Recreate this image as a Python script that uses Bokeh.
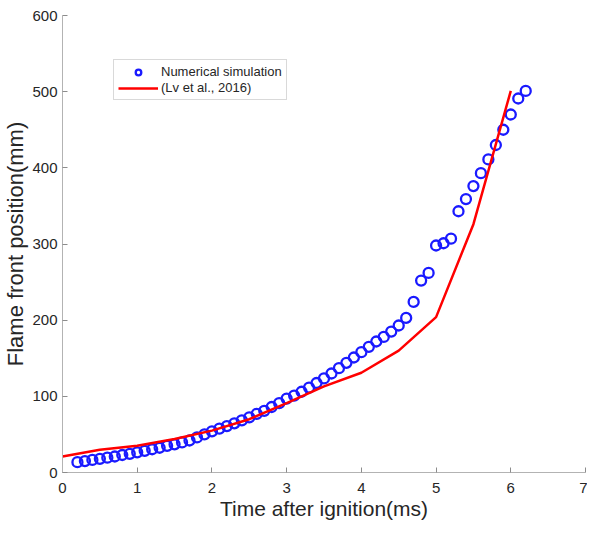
from bokeh.plotting import figure
from bokeh.models import Legend, LegendItem, FixedTicker
from bokeh.embed import file_html
from bokeh.resources import INLINE

# ---- data ----
sim_time = [0.2, 0.3, 0.4, 0.5, 0.6, 0.7, 0.8, 0.9, 1.0, 1.1,
            1.2, 1.3, 1.4, 1.5, 1.6, 1.7, 1.8, 1.9, 2.0, 2.1,
            2.2, 2.3, 2.4, 2.5, 2.6, 2.7, 2.8, 2.9, 3.0, 3.1,
            3.2, 3.3, 3.4, 3.5, 3.6, 3.7, 3.8, 3.9, 4.0, 4.1,
            4.2, 4.3, 4.4, 4.5, 4.6, 4.7, 4.8, 4.9, 5.0, 5.1,
            5.2, 5.3, 5.4, 5.5, 5.6, 5.7, 5.8, 5.9, 6.0, 6.1, 6.2]
sim_pos = [13.5, 15, 16.5, 18, 19.5, 21, 23, 24.5, 26.5, 28.5,
           30.5, 32.5, 35, 37, 39.5, 42, 46, 50, 54, 57.5,
           61, 64.5, 68.5, 72.5, 77, 81, 86, 91, 97, 101,
           106, 111.5, 117.5, 123.5, 130, 137, 144, 151, 158, 165,
           172, 178, 185, 193, 203, 224, 252, 262, 298, 301,
           307, 343, 359, 376, 393, 411, 430, 450, 470, 491, 501]

exp_time = [0.0, 0.5, 1.0, 1.5, 2.0, 2.5, 3.0, 3.5, 4.0, 4.5, 5.0, 5.5, 6.0]
exp_pos = [21, 30, 35, 44, 55, 70, 91, 113, 131, 160, 204, 326, 501]

x_ticks = [0, 1, 2, 3, 4, 5, 6, 7]
y_ticks = [0, 100, 200, 300, 400, 500, 600]

FONT = "Liberation Sans"

p = figure(width=587, height=525, x_range=(0, 7), y_range=(0, 600),
           output_backend="svg", toolbar_location=None,
           min_border_left=62, min_border_right=2, min_border_top=15,
           min_border_bottom=53)
p.outline_line_color = None
p.grid.grid_line_color = None
p.background_fill_color = "white"

r_sim = p.scatter(sim_time, sim_pos, marker="circle", size=10,
                  fill_color=None, line_color="#1a1aff", line_width=2.3)
r_exp = p.line(exp_time, exp_pos, line_color="#ff0000", line_width=2.5)

for ax in (p.xaxis[0], p.yaxis[0]):
    ax.axis_line_color = "#b3b3b3"
    ax.axis_line_width = 1
    ax.major_tick_line_color = "#8c8c8c"
    ax.major_tick_in = 5
    ax.major_tick_out = 0
    ax.minor_tick_line_color = None
    ax.major_label_text_color = "#262626"
    ax.major_label_text_font = FONT
    ax.major_label_text_font_size = "15px"
    ax.axis_label_text_color = "#262626"
    ax.axis_label_text_font = FONT
    ax.axis_label_text_font_style = "normal"

p.xaxis.ticker = FixedTicker(ticks=x_ticks)
p.yaxis.ticker = FixedTicker(ticks=y_ticks)
p.xaxis.axis_label = "Time after ignition(ms)"
p.xaxis.axis_label_text_font_size = "21px"
p.xaxis.major_label_standoff = 10
p.xaxis.axis_label_standoff = 1
p.yaxis.axis_label = "Flame front position(mm)"
p.yaxis.axis_label_text_font_size = "22px"
p.yaxis.major_label_standoff = 5
p.yaxis.axis_label_standoff = 1

legend = Legend(items=[LegendItem(label="Numerical simulation", renderers=[r_sim]),
                       LegendItem(label="(Lv et al., 2016)", renderers=[r_exp])],
                location=(51, 372))
legend.label_text_font = FONT
legend.label_text_font_size = "13px"
legend.label_text_color = "#262626"
legend.border_line_color = "#b3b3b3"
legend.border_line_width = 1
legend.background_fill_alpha = 1
legend.glyph_width = 40
legend.glyph_height = 14
legend.label_height = 14
legend.label_standoff = 3
legend.padding = 4
legend.spacing = 1
legend.margin = 0
p.add_layout(legend)

open("out.html", "w").write(file_html(p, INLINE))
